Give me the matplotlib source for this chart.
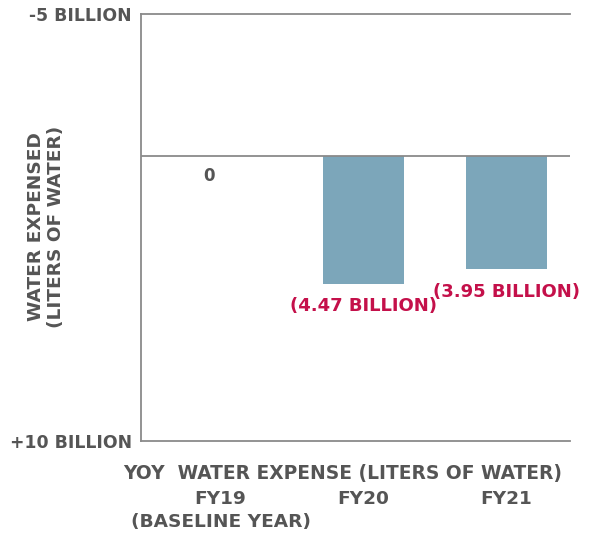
import matplotlib
matplotlib.use("Agg")
import matplotlib.pyplot as plt

# --- ДАННЫЕ ---
categories = ["FY19\n(BASELINE YEAR)", "FY20", "FY21"]
water_expensed = [0.0, 4.47, 3.95]          # billions of liters
value_labels = ["0", "(4.47 BILLION)", "(3.95 BILLION)"]
y_ticks = [-5, 10]
y_tick_labels = ["-5 BILLION", "+10 BILLION"]
x_title = "YOY  WATER EXPENSE (LITERS OF WATER)"
y_title = "WATER EXPENSED\n(LITERS OF WATER)"

GRAY = "#555555"
LINE = "#8a8a8a"
BAR = "#7ca6ba"
RED = "#c4104a"

plt.rcParams["font.family"] = ["DejaVu Sans"]
plt.rcParams["font.weight"] = "bold"

fig = plt.figure(figsize=(6.04, 5.36), dpi=100)
ax = fig.add_axes([141 / 604, 1 - 441 / 536, 429 / 604, 427 / 536])

x = list(range(len(categories)))
ax.bar(x[1:], water_expensed[1:], width=0.566, color=BAR, zorder=2)

ax.set_xlim(-0.556, 2.444)
ax.set_ylim(10, -5)

# линии
ax.axhline(0, color=LINE, lw=1.3, zorder=3)
ax.spines["right"].set_visible(False)
for s in ["left", "top", "bottom"]:
    ax.spines[s].set_color(LINE)
    ax.spines[s].set_linewidth(1.3)

ax.set_xticks(x)
ax.set_xticklabels(categories, fontsize=13.3, color=GRAY, fontweight="bold",
                   linespacing=1.4)
ax.tick_params(axis="x", length=0, pad=35)
ax.set_yticks(y_ticks)
ax.set_yticklabels(y_tick_labels, fontsize=12.4, color=GRAY, fontweight="bold")
ax.tick_params(axis="y", length=0, pad=6.5)

# подписи значений
ax.text(x[0] - 0.077, 0.7, value_labels[0], ha="center", va="center",
        fontsize=12, color=GRAY, fontweight="bold")
for i in x[1:]:
    ax.annotate(value_labels[i], (x[i], water_expensed[i]), xytext=(0, -16.5),
                textcoords="offset points", ha="center", va="center",
                fontsize=13, color=RED, fontweight="bold")

# подписи осей
fig.text(46 / 604, 1 - 227 / 536, y_title, rotation=90, ha="center", va="center",
         fontsize=13.3, color=GRAY, fontweight="bold", linespacing=1.2)
fig.text(342.5 / 604, 1 - 473.5 / 536, x_title, ha="center", va="center",
         fontsize=13.4, color=GRAY, fontweight="bold")

fig.savefig("out.png", dpi=100)
